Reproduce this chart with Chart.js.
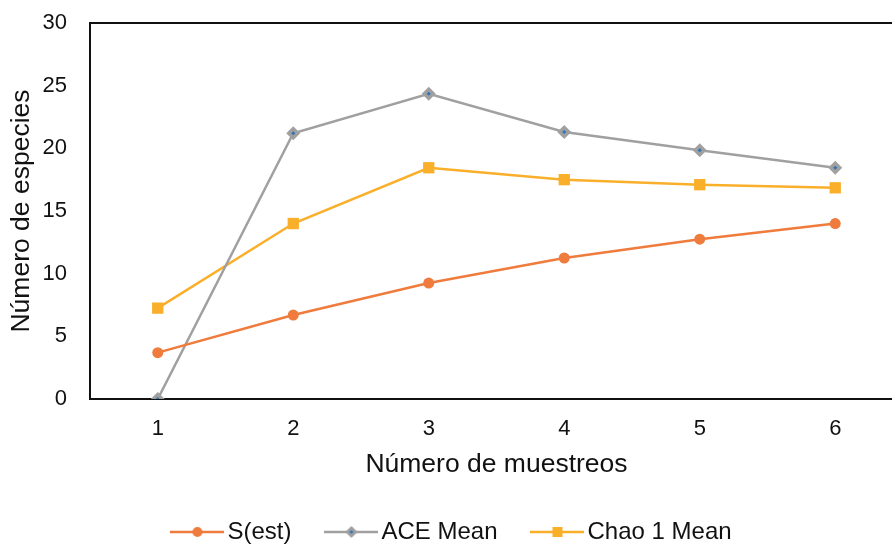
<!DOCTYPE html>
<html>
<head>
<meta charset="utf-8">
<script src="https://cdn.jsdelivr.net/npm/chart.js@4.4.1/dist/chart.umd.min.js"></script>
<style>
  html, body { margin: 0; padding: 0; overflow: hidden; background: #fff; }
  #wrap { position: absolute; left: 0; top: 0; width: 911px; height: 554px; }
</style>
</head>
<body>
<div id="wrap"><canvas id="speciesChart" width="911" height="554"></canvas></div>
<script>
const muestreos = ["1", "2", "3", "4", "5", "6"];
const sEst = [3.7, 6.7, 9.25, 11.25, 12.75, 14.0];
const aceMean = [0, 21.2, 24.35, 21.3, 19.85, 18.45];
const chao1Mean = [7.25, 14.0, 18.45, 17.5, 17.1, 16.85];
const yTicks = [0, 5, 10, 15, 20, 25, 30];

const FONT = "'Liberation Sans', Arial, sans-serif";
const ORANGE = "#EF7B3C";
const GRAY = "#A0A0A0";
const GOLD = "#FAAF2B";
const BLUE = "#2F75B5";

// little legend icon: a line with the marker in the middle
function legendIcon(color, marker, fill) {
    const c = document.createElement("canvas");
    c.width = 54; c.height = 14;
    const g = c.getContext("2d");
    g.strokeStyle = color;
    g.lineWidth = 2.5;
    g.beginPath();
    g.moveTo(0, 7); g.lineTo(54, 7);
    g.stroke();
    g.fillStyle = fill || color;
    if (marker === "circle") {
        g.beginPath(); g.arc(27, 7, 5, 0, Math.PI * 2); g.fill();
    } else if (marker === "rect") {
        g.fillRect(22, 2, 10, 10);
    } else {
        g.beginPath();
        g.moveTo(27, 3); g.lineTo(31, 7); g.lineTo(27, 11); g.lineTo(23, 7); g.closePath();
        g.fillStyle = fill; g.fill();
        g.lineWidth = 3; g.strokeStyle = color; g.stroke();
    }
    return c;
}

const frame = {
    id: "frame",
    beforeDatasetsDraw(chart) {
        const a = chart.chartArea;
        const ctx = chart.ctx;
        ctx.save();
        ctx.strokeStyle = "#111";
        ctx.lineWidth = 2;
        ctx.strokeRect(a.left, a.top, a.right - a.left, a.bottom - a.top);
        ctx.restore();
    }
};

const icons = [legendIcon(ORANGE, "circle"), legendIcon(GRAY, "diamond", BLUE), legendIcon(GOLD, "rect")];

new Chart(document.getElementById("speciesChart"), {
    type: "line",
    data: {
        labels: muestreos,
        datasets: [{
            label: "S(est)",
            data: sEst,
            borderColor: ORANGE,
            backgroundColor: ORANGE,
            borderWidth: 2.5,
            pointStyle: "circle",
            pointRadius: 5.5,
            pointBorderWidth: 0,
            tension: 0
        }, {
            label: "ACE Mean",
            data: aceMean,
            borderColor: GRAY,
            backgroundColor: BLUE,
            borderWidth: 2.5,
            pointStyle: "rectRot",
            pointRadius: 4.5,
            pointBorderColor: GRAY,
            pointBorderWidth: 3.5,
            tension: 0
        }, {
            label: "Chao 1 Mean",
            data: chao1Mean,
            borderColor: GOLD,
            backgroundColor: GOLD,
            borderWidth: 2.5,
            pointStyle: "rect",
            pointRadius: 8,
            pointBorderWidth: 0,
            tension: 0
        }]
    },
    options: {
        responsive: false,
        animation: false,
        layout: { padding: { top: 23, left: 0, right: 0, bottom: 0 } },
        plugins: {
            tooltip: { enabled: false },
            legend: {
                position: "bottom",
                labels: {
                    usePointStyle: true,
                    pointStyleWidth: 36,
                    padding: 42,
                    color: "#111",
                    font: { family: FONT, size: 24 },
                    generateLabels(chart) {
                        return chart.data.datasets.map((ds, i) => ({
                            text: ds.label,
                            pointStyle: icons[i],
                            fillStyle: ds.borderColor,
                            strokeStyle: ds.borderColor,
                            lineWidth: 0,
                            hidden: false,
                            datasetIndex: i,
                            fontColor: "#111"
                        }));
                    }
                }
            }
        },
        scales: {
            x: {
                offset: true,
                grid: { display: false, drawTicks: true, tickLength: 17 },
                border: { display: false },
                ticks: { color: "#111", padding: 0, font: { family: FONT, size: 22 } },
                title: {
                    display: true,
                    text: "Número de muestreos",
                    color: "#111",
                    font: { family: FONT, size: 26.5, lineHeight: 1 },
                    padding: { top: 0, bottom: 0 }
                },
                afterFit(scale) { scale.height = 79; }
            },
            y: {
                min: 0,
                max: 30,
                afterBuildTicks(scale) { scale.ticks = yTicks.map(v => ({ value: v })); },
                grid: { display: false, drawTicks: true, tickLength: 23 },
                border: { display: false },
                ticks: { color: "#111", padding: 0, font: { family: FONT, size: 22 } },
                title: {
                    display: true,
                    text: "Número de especies",
                    color: "#111",
                    font: { family: FONT, size: 26.5, lineHeight: 1.2 },
                    padding: { top: 6, bottom: 0 }
                },
                afterFit(scale) { scale.width = 90; }
            }
        }
    },
    plugins: [frame]
});
</script>
</body>
</html>
